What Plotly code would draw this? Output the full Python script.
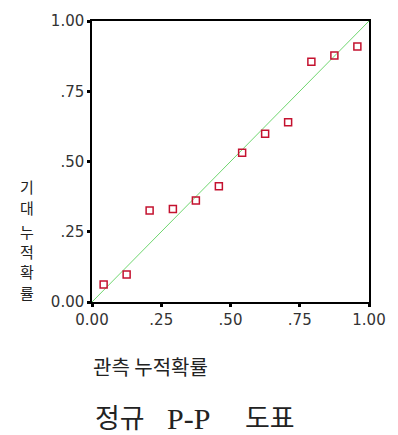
import plotly.graph_objects as go

# Normal P-P plot: observed vs expected cumulative probability
observed = [0.042, 0.125, 0.208, 0.292, 0.375, 0.458, 0.542, 0.625, 0.708, 0.792, 0.875, 0.958]
expected = [0.062, 0.098, 0.326, 0.331, 0.361, 0.412, 0.531, 0.599, 0.640, 0.855, 0.877, 0.909]
tick_vals = [0.0, 0.25, 0.5, 0.75, 1.0]
tick_text = ["0.00", ".25", ".50", ".75", "1.00"]
y_title_chars = ["기", "대", "누", "적", "확", "률"]
y_title_pos = [184, 205, 230, 250, 271, 292]  # vertical pixel centres

W, H = 398, 435
L, R, T, B = 92, 20, 15, 133
plot_w = W - L - R
plot_h = H - T - B


def px_x(px):
    return (px - L) / plot_w


def px_y(py):
    return (H - B - py) / plot_h


fig = go.Figure()
fig.add_trace(go.Scatter(
    x=[0, 1], y=[0, 1], mode="lines",
    line=dict(color="#6fd66f", width=1), hoverinfo="skip",
))
fig.add_trace(go.Scatter(
    x=observed, y=expected, mode="markers",
    marker=dict(symbol="square-open", size=7, color="#c4122f", line=dict(width=1.5)),
))

axis_common = dict(
    range=[0, 1], tickvals=tick_vals, ticktext=tick_text,
    showgrid=False, zeroline=False, showline=True, linecolor="black", linewidth=1.5,
    mirror=True, ticks="outside", ticklen=3, tickwidth=3, tickcolor="black",
    tickfont=dict(family="DejaVu Sans", size=15, color="#333"),
)
fig.update_xaxes(**axis_common)
fig.update_yaxes(**axis_common)

annotations = []
# vertical y-axis title, one character per line
for ch, py in zip(y_title_chars, y_title_pos):
    annotations.append(dict(
        text=ch, x=px_x(25), xref="paper", xanchor="center",
        y=px_y(py), yref="paper", yanchor="middle", borderpad=0,
        showarrow=False, font=dict(family="Noto Sans CJK KR", size=15, color="#222"),
    ))

annotations.append(dict(
    text="관측 누적확률", x=px_x(91), xref="paper", xanchor="left",
    y=px_y(368), yref="paper", yanchor="middle",
    showarrow=False, font=dict(family="Noto Sans CJK KR", size=20, color="#222"),
))

# chart title, set in three pieces to follow its wide word spacing
title_font_kr = dict(family="Noto Sans CJK KR", size=27, color="#222")
annotations.append(dict(
    text="정규", x=px_x(121), xref="paper", xanchor="center",
    y=px_y(419), yref="paper", yanchor="middle", showarrow=False, font=title_font_kr,
))
annotations.append(dict(
    text="P-P", x=px_x(192), xref="paper", xanchor="center",
    y=px_y(421), yref="paper", yanchor="middle", showarrow=False,
    font=dict(family="Liberation Serif", size=30, color="#222"),
))
annotations.append(dict(
    text="도표", x=px_x(276), xref="paper", xanchor="center",
    y=px_y(419), yref="paper", yanchor="middle", showarrow=False, font=title_font_kr,
))

fig.update_layout(
    width=W, height=H, margin=dict(l=L, r=R, t=T, b=B),
    paper_bgcolor="white", plot_bgcolor="white", showlegend=False,
    annotations=annotations,
)

fig.write_html("out.html")
